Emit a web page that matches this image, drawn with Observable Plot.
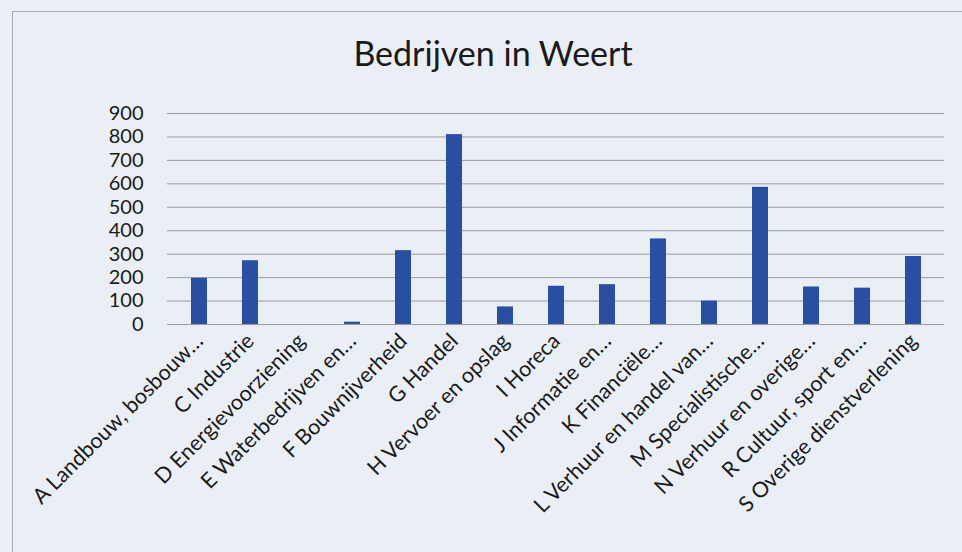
<!DOCTYPE html>
<html>
<head>
<meta charset="utf-8">
<script src="https://cdn.jsdelivr.net/npm/d3@7"></script>
<script src="https://cdn.jsdelivr.net/npm/@observablehq/plot@0.6"></script>
<style>
  html, body { margin: 0; padding: 0; background: #eaeff5; }
  #wrap { position: relative; width: 962px; height: 552px; overflow: hidden; background: #eaeff5; }
  #frame { position: absolute; left: 12px; top: 11px; width: 980px; height: 600px; border-left: 1px solid #a8adb3; border-top: 1px solid #a8adb3; }
  #title { position: relative; height: 90px; box-sizing: border-box; padding-top: 36px; padding-left: 24px; width: 962px; text-align: center; font-family: Lato, "Open Sans", sans-serif; font-size: 34px; line-height: 34px; color: #1a1a1a; }
  #chart svg { display: block; }
</style>
</head>
<body>
<div id="wrap">
  <div id="frame"></div>
  <div id="title">Bedrijven in Weert</div>
  <div id="chart"></div>
</div>
<script>
const categories = [
  "A Landbouw, bosbouw…",
  "C Industrie",
  "D Energievoorziening",
  "E Waterbedrijven en…",
  "F Bouwnijverheid",
  "G Handel",
  "H Vervoer en opslag",
  "I Horeca",
  "J Informatie en…",
  "K Financiële…",
  "L Verhuur en handel van…",
  "M Specialistische…",
  "N Verhuur en overige…",
  "R Cultuur, sport en…",
  "S Overige dienstverlening"
];
const values = [197, 272, 0, 10, 315, 810, 75, 163, 170, 365, 100, 585, 160, 155, 290];
const yTicks = [0, 100, 200, 300, 400, 500, 600, 700, 800, 900];

const data = categories.map((c, i) => ({cat: c, value: values[i]}));

const chart = Plot.plot({
  width: 962,
  height: 462,
  marginLeft: 167,
  marginRight: 18,
  marginTop: 23,
  marginBottom: 228,
  style: {background: "transparent", fontFamily: "Lato, 'Open Sans', sans-serif", color: "#1a1a1a"},
  x: {domain: categories, paddingInner: 0.69, paddingOuter: 0.345, label: null},
  y: {domain: [0, 900], label: null},
  marks: [
    Plot.gridY(yTicks, {stroke: "#9a9a9a", strokeOpacity: 1, strokeWidth: 1}),
    Plot.barY(data, {x: "cat", y: "value", fill: "#2a4fa0"}),
    Plot.axisY(yTicks, {tickSize: 0, tickPadding: 24, fontSize: 20, label: null}),
    Plot.axisX({tickSize: 0, tickPadding: 13, tickRotate: -45, fontSize: 21.5, label: null})
  ]
});
document.getElementById("chart").appendChild(chart);
</script>
</body>
</html>
